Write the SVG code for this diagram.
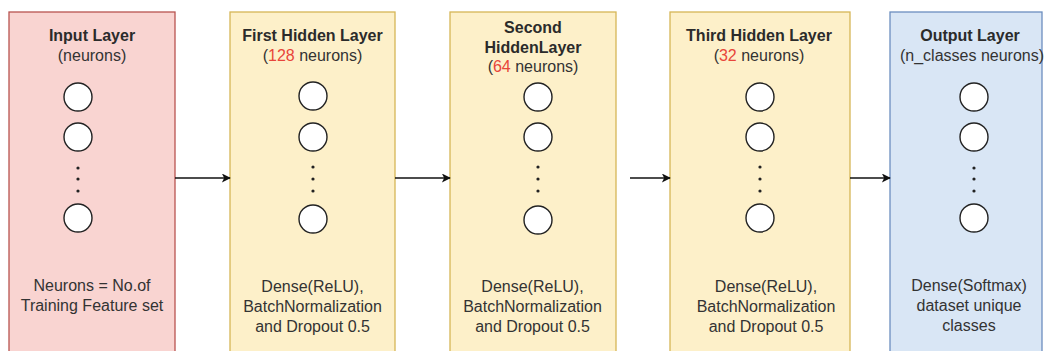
<svg xmlns="http://www.w3.org/2000/svg" width="1044" height="351" viewBox="0 0 1044 351">
  <defs>
    <marker id="arrowhead" viewBox="0 0 10 10" refX="9" refY="5" markerWidth="10" markerHeight="9" markerUnits="userSpaceOnUse" orient="auto">
      <path d="M0,0 L10,5 L0,10 L2.5,5 Z" fill="#111"/>
    </marker>
    <style>
      .layer-in { fill: #f9d4d1; stroke: #b85450; stroke-width: 1.3; }
      .layer-hid { fill: #fdf0c9; stroke: #d6b656; stroke-width: 1.3; }
      .layer-out { fill: #d9e6f5; stroke: #6c8ebf; stroke-width: 1.3; }
      .neuron { fill: #ffffff; stroke: #222; stroke-width: 1.4; }
      .dot { fill: #222; }
      .title { font-family: "Liberation Sans", Arial, sans-serif; font-size: 16px; font-weight: bold; fill: #2b2b2b; text-anchor: middle; }
      .sub { font-family: "Liberation Sans", Arial, sans-serif; font-size: 16px; fill: #333; text-anchor: middle; }
      .num { fill: #e8453a; }
      .edge { stroke: #111; stroke-width: 1.3; fill: none; marker-end: url(#arrowhead); }
    </style>
  </defs>
  <rect width="1044" height="351" fill="#ffffff"/>

  <!-- Input layer -->
  <g id="input-layer">
    <rect class="layer-in" x="9" y="12" width="166" height="350"/>
    <text class="title" x="92" y="41">Input Layer</text>
    <text class="sub" x="92" y="61">(neurons)</text>
    <circle class="neuron" cx="78" cy="97" r="14"/>
    <circle class="neuron" cx="78" cy="137" r="14"/>
    <circle class="dot" cx="78" cy="168" r="1.6"/>
    <circle class="dot" cx="78" cy="179" r="1.6"/>
    <circle class="dot" cx="78" cy="191" r="1.6"/>
    <circle class="neuron" cx="78" cy="218" r="14"/>
    <text class="sub" x="92" y="291">Neurons = No.of</text>
    <text class="sub" x="92" y="311">Training Feature set</text>
  </g>

  <!-- First hidden layer -->
  <g id="hidden-1">
    <rect class="layer-hid" x="230" y="12" width="165" height="350"/>
    <text class="title" x="312.5" y="41">First Hidden Layer</text>
    <text class="sub" x="312.5" y="61">(<tspan class="num">128</tspan> neurons)</text>
    <circle class="neuron" cx="313" cy="96" r="14"/>
    <circle class="neuron" cx="313" cy="137" r="14"/>
    <circle class="dot" cx="313" cy="167" r="1.6"/>
    <circle class="dot" cx="313" cy="179" r="1.6"/>
    <circle class="dot" cx="313" cy="191" r="1.6"/>
    <circle class="neuron" cx="313" cy="219" r="14"/>
    <text class="sub" x="312.5" y="292">Dense(ReLU),</text>
    <text class="sub" x="312.5" y="312">BatchNormalization</text>
    <text class="sub" x="312.5" y="332">and Dropout 0.5</text>
  </g>

  <!-- Second hidden layer -->
  <g id="hidden-2">
    <rect class="layer-hid" x="450" y="12" width="166" height="350"/>
    <text class="title" x="533" y="33">Second</text>
    <text class="title" x="533" y="53">HiddenLayer</text>
    <text class="sub" x="533" y="72">(<tspan class="num">64</tspan> neurons)</text>
    <circle class="neuron" cx="538" cy="97" r="14"/>
    <circle class="neuron" cx="538" cy="137" r="14"/>
    <circle class="dot" cx="538" cy="167" r="1.6"/>
    <circle class="dot" cx="538" cy="179" r="1.6"/>
    <circle class="dot" cx="538" cy="191" r="1.6"/>
    <circle class="neuron" cx="538" cy="220" r="14"/>
    <text class="sub" x="532.5" y="292">Dense(ReLU),</text>
    <text class="sub" x="532.5" y="312">BatchNormalization</text>
    <text class="sub" x="532.5" y="332">and Dropout 0.5</text>
  </g>

  <!-- Third hidden layer -->
  <g id="hidden-3">
    <rect class="layer-hid" x="670" y="12" width="180" height="350"/>
    <text class="title" x="759" y="41">Third Hidden Layer</text>
    <text class="sub" x="759" y="61">(<tspan class="num">32</tspan> neurons)</text>
    <circle class="neuron" cx="760" cy="97" r="14"/>
    <circle class="neuron" cx="760" cy="137" r="14"/>
    <circle class="dot" cx="760" cy="167" r="1.6"/>
    <circle class="dot" cx="760" cy="179" r="1.6"/>
    <circle class="dot" cx="760" cy="191" r="1.6"/>
    <circle class="neuron" cx="760" cy="218" r="14"/>
    <text class="sub" x="766" y="292">Dense(ReLU),</text>
    <text class="sub" x="766" y="312">BatchNormalization</text>
    <text class="sub" x="766" y="332">and Dropout 0.5</text>
  </g>

  <!-- Output layer -->
  <g id="output-layer">
    <rect class="layer-out" x="890" y="12" width="152" height="350"/>
    <text class="title" x="970" y="41">Output Layer</text>
    <text class="sub" x="972" y="61">(n_classes neurons)</text>
    <circle class="neuron" cx="974" cy="97" r="14"/>
    <circle class="neuron" cx="974" cy="137" r="14"/>
    <circle class="dot" cx="974" cy="168" r="1.6"/>
    <circle class="dot" cx="974" cy="179" r="1.6"/>
    <circle class="dot" cx="974" cy="191" r="1.6"/>
    <circle class="neuron" cx="974" cy="218" r="14"/>
    <text class="sub" x="969" y="291">Dense(Softmax)</text>
    <text class="sub" x="969" y="311">dataset unique</text>
    <text class="sub" x="969" y="331">classes</text>
  </g>

  <!-- Connectors between layers -->
  <g id="connectors">
    <line class="edge" x1="175" y1="178" x2="230" y2="178"/>
    <line class="edge" x1="395" y1="178" x2="450" y2="178"/>
    <line class="edge" x1="630" y1="178" x2="670" y2="178"/>
    <line class="edge" x1="850" y1="178" x2="890" y2="178"/>
  </g>
</svg>
